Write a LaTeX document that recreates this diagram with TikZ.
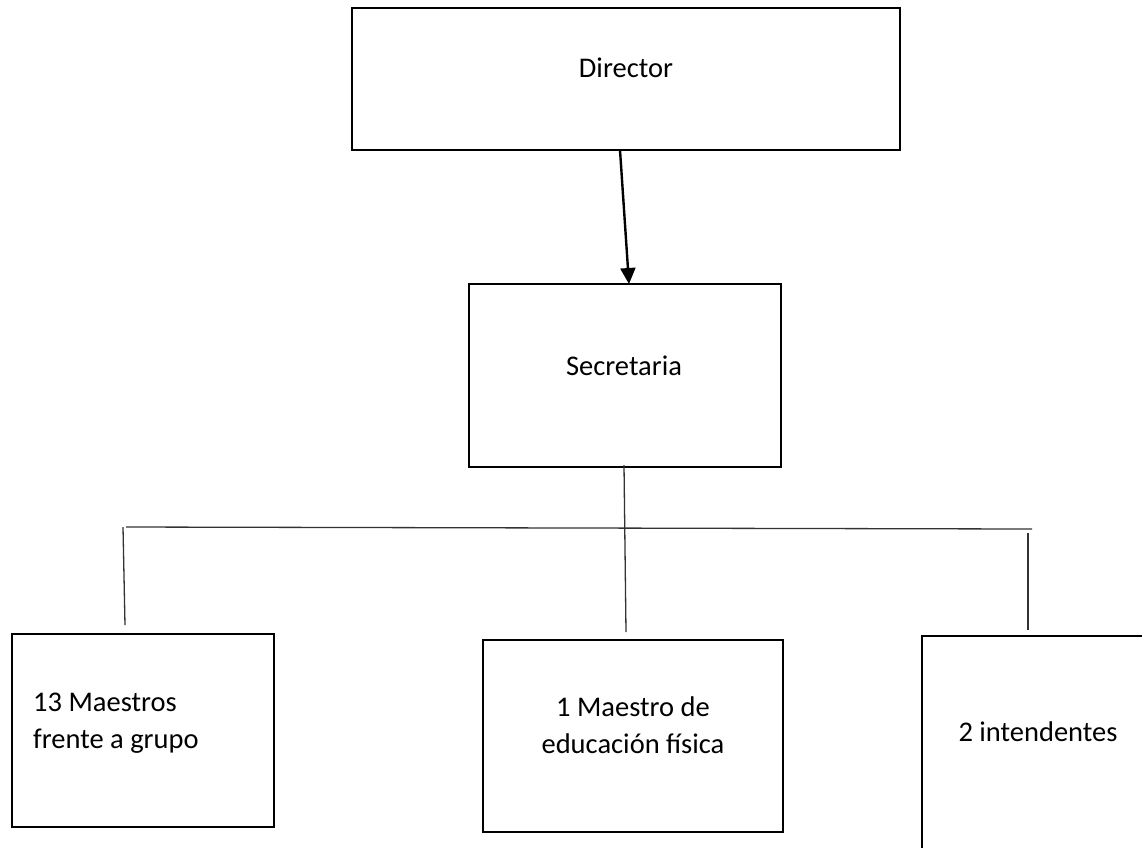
\documentclass[tikz,border=0pt]{standalone}
\usepackage{fontspec}
\setmainfont{Carlito}
\usetikzlibrary{arrows.meta}
\begin{document}
\begin{tikzpicture}[x=1pt,y=-1pt,
  box/.style={draw=black,line width=2.6pt,rectangle,inner sep=0pt,fill=none},
  lbl/.style={inner sep=0pt,font=\fontsize{28.5}{37}\selectfont},
  conn/.style={draw=black!80,line width=1.3pt},
  arrowline/.style={draw=black,line width=2.4pt,-{Triangle[length=16pt,width=15pt]}}]
\useasboundingbox (0,0) rectangle (1142,847);
% boxes
\node[box,minimum width=548pt,minimum height=142pt] (dir) at (626,79) {};
\node[box,minimum width=312pt,minimum height=183pt] (sec) at (625,375.5) {};
\node[box,minimum width=262pt,minimum height=193pt] (mae) at (143,730.5) {};
\node[box,minimum width=300pt,minimum height=192pt] (edf) at (633,736) {};
\node[box,minimum width=238pt,minimum height=234pt] (int) at (1041,753) {};
% labels
\node[lbl,anchor=base] (tdir) at (626,77) {Director};
\node[lbl,anchor=base] (tsec) at (624,375) {Secretaria};
\node[lbl,anchor=base west,align=left] (tmae) at (33,748) {13 Maestros\\frente a grupo};
\node[lbl,anchor=base,align=center] (tedf) at (633,753) {1 Maestro de\\educación física};
\node[lbl,anchor=base] (tint) at (1038,741) {2 intendentes};
% connector points
\coordinate (aS) at (620,150);
\coordinate (aE) at (629,284);
\coordinate (hL) at (126,527);
\coordinate (hR) at (1032,529);
\coordinate (vLt) at (123,527);
\coordinate (vLb) at (125,625);
\coordinate (vMt) at (624,465);
\coordinate (vMb) at (626,632);
\coordinate (vRt) at (1028,533);
\coordinate (vRb) at (1028,630);
% connectors
\draw[arrowline] (aS) -- (aE);
\draw[conn] (hL) -- (hR);
\draw[conn] (vLt) -- (vLb);
\draw[conn] (vMt) -- (vMb);
\draw[conn] (vRt) -- (vRb);
\end{tikzpicture}
\end{document}
